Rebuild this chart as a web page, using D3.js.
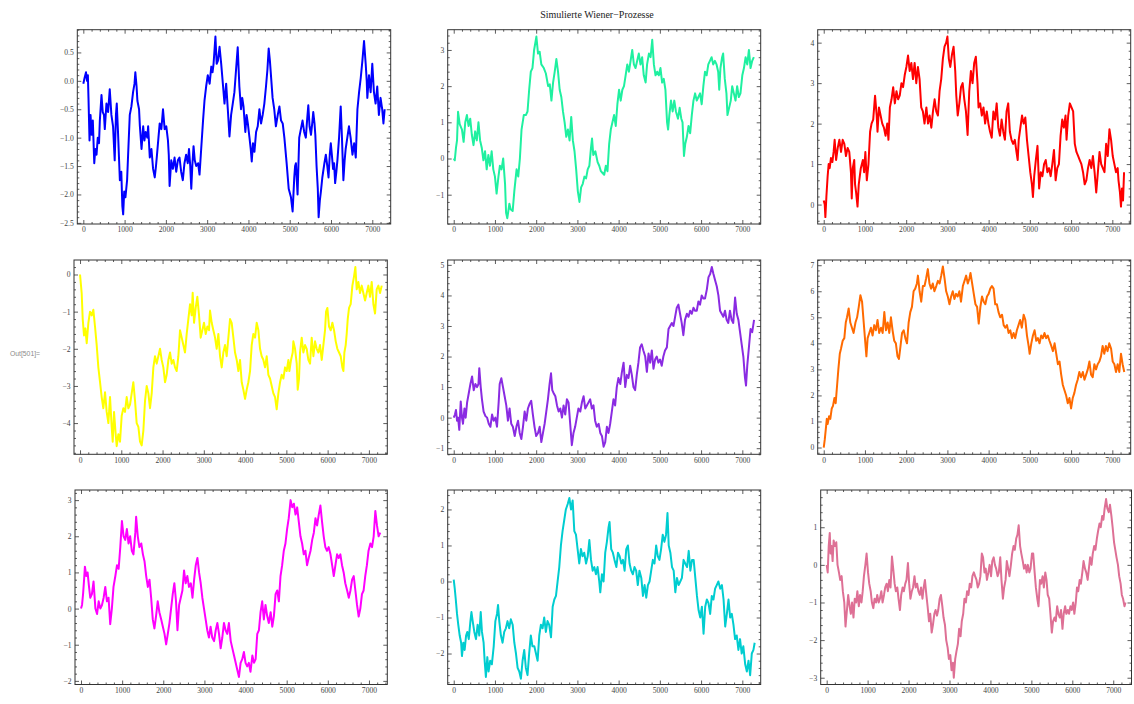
<!DOCTYPE html>
<html>
<head>
<meta charset="utf-8">
<script src="https://cdn.jsdelivr.net/npm/d3@7"></script>
<style>
  body { margin: 0; background: #fff; }
  svg { display: block; }
</style>
</head>
<body>
<svg id="chart" width="1134" height="704"></svg>
<script>
// ---- data ----
const title = "Simulierte Wiener\u2212Prozesse";
const outLabel = "Out[501]=";
const nSteps = 7300;
const xMajorTicks = [0, 1000, 2000, 3000, 4000, 5000, 6000, 7000];

const lineColors = ["#0000ff", "#1ff0a0", "#ff0000", "#ffff00", "#8a2be2", "#ff6a00", "#ff00ff", "#00cdd0", "#de7095"];

const yDomains = [[-2.52, 0.9], [-1.81, 3.56], [-0.48, 4.32], [-4.84, 0.39], [-1.2, 5.16], [-0.26, 7.2], [-2.1, 3.28], [-2.86, 2.54], [-3.18, 1.99]];
const yMajorStep = [0.5, 1, 1, 1, 1, 1, 1, 1, 1];
const yMinorStep = [0.1, 0.2, 0.2, 0.2, 0.2, 0.2, 0.2, 0.2, 0.2];
const yFormats = [".1f", "d", "d", "d", "d", "d", "d", "d", "d"];

// each series: [step, value]
const w1 = [[0,-0.05],[30,0.05],[65,0.15],[90,0.0],[110,0.1],[125,-0.3],[150,-1.05],[175,-0.6],[200,-0.95],[230,-0.7],[265,-1.45],[290,-1.2],[320,-1.3],[350,-1.0],[380,-1.1],[400,-0.7],[440,-0.25],[470,-0.55],[500,-0.6],[520,-0.85],[560,-0.4],[600,-0.55],[640,-0.15],[680,-0.6],[720,-0.8],[760,-1.4],[790,-0.6],[810,-0.4],[840,-0.9],[885,-1.75],[920,-1.6],[945,-2.2],[965,-2.35],[990,-1.95],[1020,-2.05],[1060,-1.75],[1085,-1.3],[1125,-0.6],[1165,-0.45],[1205,-0.2],[1240,-0.05],[1260,0.15],[1290,-0.1],[1310,-0.35],[1350,-0.5],[1370,-0.8],[1410,-1.2],[1450,-0.8],[1480,-1.05],[1510,-0.9],[1550,-1.0],[1570,-0.8],[1610,-1.35],[1650,-1.2],[1690,-1.55],[1730,-1.7],[1760,-1.5],[1785,-1.3],[1820,-1.0],[1850,-0.75],[1890,-0.85],[1930,-0.5],[1970,-0.85],[2010,-0.8],[2050,-1.05],[2070,-1.3],[2090,-1.85],[2130,-1.4],[2170,-1.55],[2210,-1.35],[2250,-1.6],[2290,-1.4],[2330,-1.35],[2370,-1.6],[2410,-1.75],[2450,-1.45],[2490,-1.3],[2530,-1.45],[2560,-1.2],[2590,-1.5],[2615,-1.9],[2640,-1.5],[2670,-1.15],[2700,-1.4],[2735,-1.5],[2780,-1.45],[2815,-1.65],[2855,-1.2],[2900,-0.7],[2935,-0.35],[2975,-0.1],[3015,0.1],[3060,-0.05],[3100,0.25],[3130,0.15],[3155,0.3],[3200,0.78],[3230,0.3],[3260,0.35],[3300,0.6],[3340,0.3],[3380,-0.05],[3420,-0.4],[3460,-0.05],[3500,-0.5],[3540,-0.98],[3580,-0.6],[3620,-0.4],[3660,-0.2],[3700,0.2],[3740,0.59],[3780,-0.1],[3820,-0.5],[3850,-0.3],[3880,-0.45],[3925,-0.9],[3955,-0.6],[3985,-0.75],[4025,-1.0],[4055,-1.2],[4080,-1.42],[4110,-1.1],[4145,-1.25],[4185,-0.9],[4225,-0.8],[4265,-0.5],[4305,-0.75],[4345,-0.6],[4385,-0.4],[4425,-0.1],[4460,0.2],[4490,0.57],[4520,0.35],[4545,0.1],[4585,-0.3],[4625,-0.5],[4665,-0.8],[4710,-0.6],[4750,-0.45],[4790,-0.7],[4830,-0.75],[4870,-1.0],[4925,-1.45],[4975,-1.9],[5030,-2.05],[5070,-2.3],[5110,-1.7],[5130,-1.5],[5150,-1.45],[5190,-2.0],[5230,-1.0],[5270,-0.85],[5310,-0.7],[5350,-0.9],[5390,-1.0],[5420,-0.7],[5450,-0.43],[5480,-0.8],[5515,-0.95],[5545,-0.75],[5570,-0.55],[5600,-0.75],[5620,-0.95],[5650,-1.5],[5680,-1.9],[5700,-2.4],[5730,-2.1],[5755,-1.95],[5790,-1.7],[5810,-1.6],[5840,-1.45],[5875,-1.3],[5910,-1.5],[5940,-1.7],[5970,-1.3],[5995,-1.1],[6020,-1.3],[6050,-1.55],[6075,-1.45],[6100,-1.8],[6130,-1.6],[6155,-1.4],[6195,-1.0],[6235,-0.45],[6265,-1.0],[6300,-1.75],[6330,-1.4],[6355,-1.2],[6395,-1.0],[6435,-0.8],[6475,-1.0],[6520,-1.3],[6560,-1.1],[6600,-1.35],[6640,-0.5],[6680,-0.2],[6720,0.05],[6760,0.35],[6800,0.7],[6840,0.3],[6865,0.0],[6880,-0.3],[6920,0.1],[6960,-0.2],[7000,0.3],[7040,-0.2],[7080,-0.4],[7120,-0.1],[7160,-0.6],[7200,-0.3],[7240,-0.5],[7270,-0.75],[7300,-0.5]];

const w2 = [[0,0],[25,-0.05],[55,0.3],[80,0.5],[105,1.29],[145,0.95],[200,0.8],[240,0.46],[280,1.0],[320,1.2],[360,0.9],[400,1.1],[440,0.65],[480,0.37],[520,0.75],[560,0.5],[600,1.0],[640,0.5],[680,0.3],[720,-0.05],[760,0.2],[800,-0.3],[840,0.1],[880,-0.2],[920,0.2],[960,-0.3],[1000,-0.5],[1040,-0.97],[1085,-0.5],[1120,-0.2],[1160,-0.3],[1200,0.0],[1245,-0.7],[1270,-1.5],[1300,-1.65],[1350,-1.25],[1380,-1.4],[1430,-1.45],[1470,-0.9],[1525,-0.3],[1565,-0.5],[1605,0.0],[1645,0.8],[1700,1.2],[1750,1.2],[1790,1.3],[1830,1.9],[1870,2.4],[1910,2.5],[1950,3.0],[2005,3.37],[2045,2.9],[2085,2.95],[2125,2.6],[2185,2.5],[2235,2.35],[2290,2.0],[2330,2.05],[2370,1.6],[2410,2.1],[2450,2.4],[2490,2.75],[2530,2.4],[2570,1.9],[2610,1.7],[2650,1.3],[2690,1.0],[2730,0.6],[2770,0.8],[2810,0.5],[2850,1.15],[2890,0.5],[2930,0.2],[2970,-0.3],[3010,-0.9],[3050,-1.2],[3090,-0.8],[3130,-0.7],[3170,-0.5],[3210,-0.55],[3250,-0.3],[3290,-0.2],[3330,0.3],[3355,0.55],[3385,0.1],[3435,0.2],[3490,-0.1],[3530,-0.2],[3570,-0.35],[3610,-0.4],[3650,-0.45],[3690,-0.2],[3730,-0.35],[3770,0.4],[3810,0.8],[3850,1.0],[3890,1.2],[3930,0.9],[3970,1.5],[4010,1.9],[4050,1.6],[4090,1.9],[4130,2.0],[4170,2.3],[4210,2.6],[4250,2.4],[4290,2.7],[4330,3.0],[4370,2.6],[4410,2.5],[4450,2.7],[4490,2.9],[4530,2.6],[4570,2.8],[4610,2.3],[4655,2.1],[4690,2.6],[4735,2.9],[4775,2.8],[4815,3.28],[4855,2.6],[4895,2.3],[4935,2.4],[4975,2.3],[5015,2.5],[5055,2.1],[5095,2.2],[5135,1.9],[5175,1.0],[5200,0.8],[5230,1.2],[5270,1.6],[5310,1.3],[5350,1.6],[5390,1.3],[5440,1.1],[5480,1.4],[5520,1.1],[5550,1.0],[5585,0.07],[5615,0.4],[5655,0.6],[5695,0.9],[5735,0.7],[5775,1.2],[5815,1.6],[5855,1.8],[5895,1.6],[5935,1.7],[5975,1.8],[6015,1.5],[6055,2.0],[6095,2.4],[6135,2.3],[6175,2.6],[6215,2.7],[6255,2.8],[6295,2.6],[6335,2.7],[6375,2.6],[6415,2.4],[6440,1.9],[6470,2.5],[6510,2.8],[6535,2.9],[6575,2.2],[6615,1.8],[6640,1.2],[6680,1.4],[6720,1.6],[6755,2.0],[6795,1.8],[6835,1.6],[6875,2.0],[6915,1.7],[6955,1.8],[7000,2.3],[7040,2.5],[7080,2.8],[7120,2.6],[7160,3.0],[7200,2.5],[7240,2.7],[7280,2.8]];

const w3 = [[0,0.1],[25,0.0],[40,-0.31],[65,0.2],[95,0.7],[120,1.0],[145,0.9],[175,1.15],[210,1.05],[240,1.3],[265,1.6],[300,1.1],[340,1.4],[380,1.6],[420,1.3],[460,1.6],[500,1.5],[540,1.2],[580,1.4],[620,1.3],[660,0.8],[680,0.15],[705,0.9],[740,1.1],[760,0.5],[785,0.3],[820,-0.05],[850,0.5],[900,0.9],[950,1.1],[980,0.8],[1010,1.3],[1045,0.6],[1085,1.0],[1125,1.8],[1160,2.0],[1200,2.1],[1245,2.69],[1285,2.2],[1305,1.8],[1340,2.4],[1380,2.2],[1420,2.0],[1460,1.9],[1500,1.7],[1540,2.0],[1570,1.6],[1605,2.4],[1645,2.6],[1685,2.9],[1725,2.5],[1765,2.8],[1805,2.6],[1845,2.7],[1885,3.0],[1925,2.9],[1965,3.2],[2005,3.4],[2045,3.68],[2085,3.3],[2125,3.5],[2165,3.1],[2205,3.5],[2245,3.0],[2285,3.4],[2325,3.1],[2365,2.4],[2405,2.3],[2445,2.0],[2490,2.4],[2530,2.0],[2570,2.2],[2610,1.9],[2650,2.3],[2690,2.6],[2730,2.3],[2770,2.2],[2810,2.8],[2850,3.1],[2890,3.6],[2930,3.9],[2970,4.0],[3000,4.15],[3035,3.6],[3070,3.4],[3110,3.7],[3150,3.9],[3190,3.3],[3215,2.7],[3250,2.2],[3290,2.5],[3330,2.9],[3370,3.0],[3410,2.6],[3450,2.3],[3490,1.72],[3530,2.8],[3570,3.3],[3610,3.0],[3650,3.5],[3690,3.65],[3730,3.0],[3755,2.4],[3795,2.5],[3835,2.2],[3875,2.4],[3915,2.0],[3955,2.3],[3995,2.0],[4035,1.8],[4075,1.65],[4115,2.3],[4155,2.1],[4195,2.5],[4235,1.9],[4275,1.7],[4315,2.1],[4355,1.8],[4395,1.6],[4435,2.3],[4475,2.5],[4515,1.8],[4555,1.6],[4595,1.5],[4635,1.6],[4675,1.3],[4705,1.1],[4730,1.6],[4770,1.9],[4810,2.2],[4850,2.0],[4890,2.15],[4930,1.6],[4970,1.2],[5010,0.8],[5050,0.5],[5075,0.19],[5105,0.7],[5145,1.1],[5185,1.45],[5225,0.4],[5265,0.8],[5305,0.7],[5345,1.0],[5385,1.1],[5425,0.8],[5465,0.9],[5505,0.7],[5545,1.0],[5585,1.35],[5625,0.6],[5665,0.9],[5705,1.0],[5745,1.7],[5785,2.1],[5825,1.9],[5865,2.2],[5890,1.6],[5930,2.2],[5970,2.5],[6010,2.4],[6050,2.3],[6090,1.5],[6130,1.3],[6170,1.2],[6210,1.1],[6250,1.0],[6290,0.8],[6330,0.5],[6370,0.6],[6410,0.9],[6450,1.1],[6490,0.9],[6530,1.2],[6570,0.8],[6610,0.3],[6650,0.8],[6690,1.3],[6730,1.0],[6770,0.9],[6810,0.8],[6850,1.5],[6890,1.2],[6930,1.86],[6970,1.6],[7010,1.2],[7050,1.0],[7090,0.8],[7130,0.9],[7150,0.6],[7185,0.3],[7210,-0.05],[7235,0.4],[7260,0.1],[7285,0.8]];

const w4 = [[0,0.0],[40,-0.5],[65,-1.2],[97,-1.64],[129,-1.45],[162,-1.85],[202,-1.3],[242,-1.0],[283,-1.1],[323,-0.95],[363,-1.4],[404,-1.9],[444,-2.5],[485,-2.9],[525,-3.3],[565,-3.6],[606,-3.17],[646,-3.7],[687,-4.0],[727,-3.3],[767,-4.1],[792,-4.5],[824,-3.7],[864,-4.3],[889,-4.62],[929,-4.3],[969,-4.5],[1010,-3.8],[1050,-3.6],[1090,-3.7],[1131,-3.3],[1171,-3.6],[1212,-3.5],[1252,-3.2],[1292,-2.9],[1333,-3.4],[1373,-4.0],[1414,-4.1],[1454,-4.5],[1494,-4.6],[1535,-4.2],[1575,-3.4],[1616,-3.0],[1656,-3.2],[1696,-3.6],[1737,-3.2],[1777,-2.5],[1817,-2.2],[1858,-2.4],[1898,-2.2],[1939,-2.0],[1979,-2.3],[2019,-2.5],[2060,-2.9],[2100,-2.7],[2141,-2.3],[2181,-2.1],[2221,-2.4],[2262,-2.3],[2302,-2.5],[2342,-2.6],[2383,-2.2],[2423,-1.5],[2464,-1.7],[2504,-1.9],[2544,-2.1],[2585,-1.6],[2625,-1.2],[2666,-0.8],[2706,-1.1],[2730,-0.49],[2763,-1.3],[2803,-0.9],[2843,-0.6],[2884,-1.1],[2924,-1.7],[2964,-1.5],[3005,-1.3],[3045,-1.6],[3086,-1.4],[3126,-1.5],[3150,-0.97],[3191,-1.3],[3231,-1.5],[3272,-1.7],[3312,-2.0],[3352,-1.6],[3393,-2.2],[3433,-2.5],[3473,-2.1],[3514,-1.9],[3554,-2.2],[3595,-1.7],[3635,-1.2],[3675,-1.3],[3716,-1.7],[3756,-2.1],[3797,-2.3],[3837,-2.6],[3877,-2.3],[3918,-2.9],[3958,-3.1],[3999,-3.35],[4039,-3.1],[4079,-2.9],[4120,-2.6],[4160,-1.9],[4200,-1.6],[4241,-1.7],[4281,-1.3],[4322,-1.5],[4362,-2.0],[4402,-2.2],[4443,-2.3],[4483,-2.5],[4524,-2.2],[4564,-2.7],[4604,-2.8],[4645,-3.0],[4685,-3.2],[4726,-3.3],[4766,-3.63],[4806,-3.2],[4847,-2.9],[4887,-2.7],[4928,-2.8],[4968,-2.5],[5008,-2.6],[5049,-2.3],[5073,-2.6],[5113,-2.3],[5154,-2.1],[5170,-1.8],[5210,-2.0],[5251,-2.4],[5275,-3.1],[5307,-2.8],[5331,-2.1],[5372,-1.7],[5412,-2.1],[5453,-1.9],[5493,-2.0],[5533,-2.3],[5574,-2.4],[5614,-1.7],[5655,-2.2],[5695,-1.8],[5735,-2.0],[5776,-2.1],[5816,-1.9],[5857,-2.3],[5897,-1.9],[5937,-1.5],[5962,-1.0],[5994,-0.9],[6034,-1.4],[6075,-1.5],[6115,-1.3],[6155,-1.5],[6196,-1.8],[6236,-2.0],[6277,-2.1],[6317,-2.2],[6357,-2.5],[6382,-2.6],[6406,-2.1],[6438,-1.9],[6462,-1.6],[6487,-1.2],[6519,-0.9],[6559,-0.8],[6600,-0.3],[6640,-0.05],[6672,0.2],[6705,-0.4],[6745,-0.2],[6785,-0.5],[6826,-0.3],[6866,-0.5],[6907,-0.7],[6947,-0.5],[6987,-0.3],[7028,-0.6],[7068,-0.2],[7109,-0.8],[7149,-1.05],[7189,-0.4],[7230,-0.3],[7270,-0.5],[7311,-0.3]];

const w5 = [[0,0.0],[30,0.1],[55,0.25],[80,-0.1],[105,0.0],[135,-0.4],[170,0.53],[200,0.0],[225,-0.2],[260,0.3],[290,0.0],[325,0.5],[365,0.8],[405,1.1],[445,1.35],[485,0.9],[525,1.1],[565,1.0],[600,1.1],[620,1.62],[655,1.0],[685,0.6],[725,0.2],[770,0.05],[810,0.0],[850,-0.2],[890,-0.3],[930,0.1],[970,-0.1],[1010,0.0],[1050,-0.3],[1090,0.5],[1115,1.1],[1155,1.29],[1195,1.0],[1235,0.7],[1275,0.4],[1315,-0.1],[1355,0.3],[1395,-0.2],[1435,-0.3],[1480,-0.6],[1520,-0.3],[1560,-0.1],[1600,-0.5],[1640,-0.7],[1680,-0.3],[1720,0.2],[1760,-0.1],[1800,0.3],[1840,0.45],[1880,0.55],[1920,0.1],[1960,-0.3],[2000,-0.6],[2045,-0.5],[2085,-0.3],[2125,-0.8],[2165,-0.5],[2205,-0.2],[2245,0.2],[2285,0.6],[2325,1.1],[2360,1.45],[2390,0.9],[2425,0.8],[2465,0.7],[2505,0.4],[2545,0.2],[2585,0.3],[2625,0.0],[2665,0.4],[2705,0.1],[2745,0.6],[2785,0.5],[2825,-0.2],[2865,-0.9],[2905,-0.5],[2945,-0.3],[2985,0.0],[3025,0.3],[3070,0.2],[3110,0.5],[3150,0.7],[3190,0.3],[3230,0.4],[3270,0.5],[3310,0.6],[3350,0.3],[3390,0.4],[3430,-0.1],[3470,-0.3],[3515,-0.2],[3555,-0.5],[3595,-0.6],[3635,-0.95],[3675,-0.8],[3715,-0.3],[3755,-0.5],[3795,-0.2],[3835,0.2],[3875,0.6],[3915,0.4],[3955,1.0],[3995,1.3],[4040,1.1],[4080,1.5],[4120,1.8],[4160,1.0],[4200,1.4],[4240,1.3],[4280,1.7],[4320,1.4],[4360,1.0],[4400,0.9],[4440,1.4],[4480,1.8],[4520,2.3],[4560,2.4],[4600,2.2],[4645,2.0],[4685,1.5],[4725,2.1],[4765,1.8],[4805,2.2],[4845,1.6],[4885,1.9],[4925,2.0],[4965,1.8],[5005,1.9],[5045,1.7],[5085,2.0],[5125,2.2],[5170,2.3],[5210,2.9],[5250,3.0],[5290,3.1],[5330,3.0],[5370,3.3],[5410,3.6],[5450,3.7],[5490,3.4],[5530,3.1],[5570,2.7],[5610,3.2],[5655,3.4],[5695,3.3],[5735,3.5],[5775,3.4],[5815,3.6],[5855,3.5],[5895,3.5],[5935,3.8],[5975,3.7],[6015,4.0],[6055,3.9],[6095,3.9],[6140,4.2],[6180,4.6],[6220,4.7],[6260,4.93],[6300,4.7],[6340,4.5],[6380,4.3],[6420,4.0],[6460,3.5],[6500,3.4],[6540,3.3],[6580,3.5],[6620,3.2],[6660,3.1],[6700,3.5],[6740,3.2],[6780,3.1],[6825,3.93],[6865,3.4],[6905,3.2],[6945,2.8],[6985,2.4],[7025,2.0],[7065,1.3],[7090,1.05],[7120,1.7],[7160,2.3],[7200,2.9],[7240,2.8],[7285,3.2]];

const w6 = [[0,0.0],[25,0.3],[50,0.7],[75,1.1],[95,0.9],[130,1.2],[160,1.1],[195,1.5],[225,1.6],[260,1.9],[290,1.7],[325,2.4],[355,3.0],[390,3.6],[420,3.8],[460,4.1],[500,4.2],[535,4.8],[565,5.0],[605,5.34],[645,4.8],[685,4.6],[725,4.4],[770,4.8],[810,5.0],[850,5.4],[890,5.85],[930,5.6],[970,4.8],[1010,4.0],[1035,3.5],[1065,4.2],[1105,4.4],[1145,4.6],[1185,4.3],[1225,4.7],[1265,4.5],[1305,4.9],[1345,4.4],[1390,4.6],[1430,4.4],[1470,5.2],[1510,4.5],[1550,4.8],[1590,4.4],[1630,5.0],[1670,4.5],[1710,4.1],[1750,4.0],[1790,3.5],[1825,3.4],[1855,3.8],[1900,4.4],[1940,4.5],[1980,4.2],[2020,4.0],[2060,4.8],[2100,5.2],[2140,5.4],[2180,6.0],[2220,6.1],[2260,6.3],[2285,6.6],[2325,6.0],[2365,5.6],[2405,6.2],[2445,6.2],[2485,6.5],[2525,6.85],[2565,6.3],[2605,6.1],[2645,6.3],[2685,6.0],[2730,6.2],[2770,6.4],[2810,6.3],[2850,6.6],[2890,6.95],[2930,6.5],[2970,6.0],[3010,5.8],[3050,5.5],[3090,5.8],[3130,6.0],[3170,5.7],[3210,5.9],[3250,5.8],[3290,6.0],[3330,5.6],[3375,6.2],[3415,6.4],[3455,6.6],[3495,6.3],[3535,6.5],[3560,6.7],[3600,6.3],[3640,5.9],[3680,5.5],[3720,5.4],[3760,4.76],[3800,5.4],[3840,5.8],[3880,5.6],[3920,5.5],[3960,5.8],[4000,5.9],[4040,6.1],[4080,6.2],[4120,6.1],[4160,5.5],[4200,5.5],[4240,5.2],[4280,5.0],[4325,5.1],[4365,4.7],[4405,4.6],[4445,4.7],[4485,4.4],[4525,4.5],[4565,4.2],[4605,4.4],[4645,4.2],[4685,4.5],[4725,4.7],[4765,4.9],[4805,4.6],[4850,5.1],[4890,4.9],[4930,4.3],[4970,3.9],[4995,3.6],[5035,4.0],[5075,4.3],[5115,4.5],[5155,4.1],[5195,4.2],[5235,4.0],[5275,4.3],[5315,4.2],[5355,4.4],[5395,4.2],[5435,4.3],[5475,4.1],[5520,3.9],[5560,3.7],[5600,4.0],[5640,3.6],[5680,3.2],[5720,3.3],[5760,2.8],[5800,2.4],[5840,2.2],[5880,2.0],[5920,1.7],[5960,1.9],[6000,1.5],[6040,1.9],[6080,2.1],[6120,2.4],[6160,2.6],[6200,2.9],[6240,2.7],[6285,2.9],[6325,2.6],[6365,2.8],[6405,3.0],[6445,3.3],[6485,2.8],[6525,2.7],[6565,3.2],[6605,3.0],[6645,3.2],[6685,3.3],[6725,3.5],[6765,3.9],[6805,3.6],[6845,3.9],[6885,3.7],[6925,4.0],[6970,3.8],[7010,3.3],[7050,3.2],[7090,2.9],[7130,3.2],[7170,2.9],[7210,3.6],[7250,3.2],[7290,2.9]];

const w7 = [[0,0.0],[25,0.1],[50,0.4],[75,0.8],[95,1.16],[130,0.9],[160,1.0],[195,0.6],[225,0.3],[265,0.4],[305,0.75],[350,0.0],[390,-0.15],[430,0.2],[470,0.0],[510,0.1],[550,0.3],[590,0.6],[630,0.2],[670,0.3],[710,-0.43],[750,0.0],[790,0.6],[835,0.9],[875,1.2],[915,1.1],[955,1.7],[995,2.42],[1035,2.0],[1075,1.9],[1115,2.2],[1155,1.8],[1195,2.0],[1235,1.6],[1275,1.5],[1320,2.1],[1340,2.54],[1380,2.0],[1420,1.7],[1465,1.8],[1505,1.5],[1545,1.3],[1585,0.9],[1625,0.6],[1665,0.8],[1705,0.3],[1745,-0.3],[1785,-0.55],[1825,-0.2],[1865,0.2],[1905,-0.1],[1950,-0.3],[1990,-0.5],[2030,-0.7],[2070,-0.99],[2110,-0.7],[2150,-0.4],[2190,0.0],[2230,0.4],[2270,0.7],[2310,0.2],[2345,-0.6],[2385,0.1],[2425,0.3],[2465,0.5],[2505,1.05],[2545,0.7],[2585,0.9],[2625,0.6],[2670,0.7],[2710,0.3],[2750,0.8],[2790,1.2],[2830,1.4],[2870,1.0],[2910,0.7],[2950,0.3],[2990,0.0],[3030,-0.3],[3070,-0.6],[3110,-0.8],[3150,-0.5],[3190,-0.8],[3235,-0.9],[3275,-0.6],[3315,-0.4],[3355,-0.7],[3395,-1.1],[3435,-0.8],[3475,-0.4],[3515,-0.6],[3555,-0.7],[3595,-0.4],[3640,-0.9],[3680,-1.1],[3720,-1.3],[3760,-1.5],[3800,-1.7],[3840,-1.89],[3880,-1.5],[3920,-1.4],[3960,-1.2],[4000,-1.5],[4040,-1.6],[4080,-1.5],[4120,-1.75],[4165,-1.3],[4205,-1.5],[4245,-1.4],[4285,-0.7],[4325,-0.6],[4365,-0.1],[4405,0.2],[4445,-0.3],[4485,0.1],[4525,-0.2],[4565,-0.4],[4610,-0.1],[4650,-0.5],[4690,-0.2],[4730,0.4],[4770,0.5],[4810,0.2],[4850,0.9],[4890,1.2],[4930,1.6],[4970,1.8],[5010,2.2],[5050,2.5],[5095,3.0],[5135,2.8],[5175,2.9],[5215,2.6],[5255,2.8],[5295,2.4],[5335,2.0],[5375,1.8],[5415,1.5],[5455,1.6],[5495,1.2],[5535,1.4],[5580,1.6],[5620,1.9],[5660,2.1],[5700,2.5],[5740,2.3],[5780,2.6],[5820,2.85],[5860,2.4],[5900,2.0],[5940,1.7],[5980,1.6],[6020,1.7],[6065,1.5],[6105,1.2],[6145,0.9],[6185,1.2],[6225,1.5],[6265,1.4],[6305,1.5],[6345,1.2],[6385,1.0],[6425,0.7],[6470,0.5],[6510,0.3],[6550,0.5],[6590,0.8],[6630,0.9],[6670,0.5],[6710,0.1],[6750,-0.22],[6790,0.0],[6830,0.4],[6870,0.5],[6910,0.9],[6950,1.2],[6990,1.6],[7035,1.8],[7075,1.7],[7115,2.0],[7155,2.7],[7195,2.3],[7235,2.0],[7275,2.1]];

const w8 = [[0,0.05],[25,-0.2],[50,-0.5],[80,-0.9],[110,-1.2],[145,-1.5],[180,-1.7],[200,-2.07],[235,-1.7],[265,-1.9],[300,-1.5],[330,-1.4],[365,-1.6],[405,-1.1],[430,-0.85],[460,-1.1],[500,-1.4],[540,-1.6],[580,-1.2],[620,-1.5],[655,-0.85],[685,-1.4],[725,-1.7],[750,-2.2],[780,-2.65],[815,-2.1],[845,-2.5],[885,-2.2],[925,-2.3],[970,-1.8],[1010,-1.1],[1050,-0.9],[1075,-0.65],[1105,-1.1],[1145,-1.5],[1185,-1.7],[1225,-1.4],[1265,-1.3],[1305,-1.1],[1345,-1.3],[1385,-1.05],[1430,-1.2],[1470,-1.7],[1510,-2.0],[1550,-2.4],[1590,-2.5],[1630,-2.7],[1670,-2.2],[1710,-1.9],[1750,-2.4],[1790,-2.6],[1830,-2.0],[1870,-1.5],[1910,-1.8],[1955,-1.8],[1995,-2.0],[2035,-2.2],[2075,-1.5],[2115,-1.2],[2155,-1.3],[2195,-1.0],[2235,-1.4],[2275,-1.1],[2315,-1.2],[2360,-1.55],[2400,-0.7],[2440,-0.5],[2480,-0.4],[2520,0.0],[2560,0.4],[2600,1.0],[2640,1.4],[2680,1.7],[2720,2.0],[2765,2.15],[2805,2.32],[2845,2.0],[2885,2.25],[2925,1.4],[2965,1.3],[3005,0.9],[3045,0.5],[3085,0.9],[3125,0.7],[3165,0.8],[3210,0.5],[3250,0.7],[3290,1.15],[3330,0.6],[3370,0.3],[3410,0.4],[3450,0.2],[3490,0.4],[3530,0.0],[3555,-0.3],[3595,0.2],[3635,0.0],[3675,0.8],[3715,1.1],[3755,1.5],[3780,1.65],[3820,0.9],[3860,0.8],[3900,0.6],[3945,0.4],[3985,0.8],[4025,0.7],[4065,0.5],[4105,0.6],[4145,0.3],[4185,0.9],[4225,1.0],[4265,0.5],[4305,0.3],[4345,0.2],[4385,0.4],[4425,0.3],[4465,-0.1],[4505,0.3],[4550,0.1],[4590,-0.4],[4630,-0.1],[4670,-0.45],[4710,-0.1],[4750,0.0],[4790,0.3],[4830,0.6],[4870,0.5],[4910,1.0],[4950,0.7],[4990,0.6],[5030,0.9],[5070,1.3],[5110,1.1],[5150,1.3],[5185,1.9],[5215,1.0],[5255,0.8],[5295,0.4],[5335,0.3],[5375,-0.3],[5415,0.1],[5455,-0.1],[5495,0.0],[5535,0.1],[5575,0.6],[5615,0.5],[5660,0.4],[5700,0.85],[5740,0.3],[5780,0.6],[5820,0.6],[5860,0.1],[5900,-0.4],[5940,-0.8],[5980,-1.0],[6020,-0.7],[6060,-1.45],[6100,-0.7],[6140,-0.5],[6180,-0.6],[6220,-0.9],[6260,-0.4],[6300,-0.5],[6340,-0.2],[6380,-0.1],[6420,0.0],[6465,-0.2],[6505,-0.1],[6545,-0.5],[6585,-1.25],[6625,-0.9],[6665,-0.5],[6705,-1.0],[6745,-0.9],[6785,-1.2],[6825,-1.6],[6865,-1.5],[6905,-1.9],[6945,-1.6],[6985,-2.0],[7025,-1.8],[7070,-2.3],[7110,-2.5],[7150,-2.2],[7190,-2.6],[7230,-2.0],[7270,-1.9],[7300,-1.7]];

const w9 = [[0,0.0],[25,-0.2],[50,0.5],[75,0.85],[95,0.3],[120,0.5],[145,0.1],[170,0.65],[200,0.5],[235,0.6],[265,0.0],[300,-0.2],[330,-0.4],[365,-0.3],[395,-0.7],[430,-1.0],[460,-1.64],[495,-1.2],[525,-0.8],[560,-1.1],[590,-1.3],[620,-1.0],[655,-1.4],[685,-0.9],[720,-1.0],[750,-0.7],[785,-1.1],[815,-0.8],[850,-1.0],[880,-0.7],[910,-0.3],[945,0.0],[975,0.3],[1010,-0.2],[1040,-0.5],[1075,-0.7],[1105,-1.0],[1140,-1.15],[1170,-0.9],[1205,-1.0],[1235,-0.8],[1270,-1.0],[1300,-0.9],[1335,-0.7],[1365,-1.0],[1400,-0.8],[1430,-0.6],[1465,-0.5],[1495,-0.7],[1530,-0.4],[1560,-0.6],[1595,0.22],[1625,-0.1],[1660,-0.5],[1690,-0.7],[1725,-0.6],[1755,-0.9],[1790,-1.2],[1820,-0.8],[1855,-0.6],[1885,-0.7],[1920,-0.5],[1950,-0.4],[1985,0.05],[2015,-0.5],[2045,-0.9],[2080,-0.7],[2110,-0.6],[2145,-0.3],[2175,-0.6],[2210,-0.5],[2240,-0.7],[2275,-0.8],[2305,-0.6],[2340,-0.9],[2370,-0.6],[2400,-0.4],[2435,-0.8],[2465,-1.1],[2500,-1.5],[2530,-1.3],[2565,-1.8],[2595,-1.6],[2630,-1.3],[2660,-1.2],[2695,-1.35],[2725,-1.2],[2760,-0.9],[2790,-0.8],[2825,-1.1],[2855,-1.4],[2890,-1.6],[2920,-2.0],[2955,-2.2],[2985,-2.5],[3020,-2.4],[3050,-2.8],[3085,-2.6],[3105,-3.0],[3140,-2.5],[3170,-2.3],[3205,-2.1],[3235,-1.7],[3270,-1.9],[3300,-1.5],[3335,-1.3],[3365,-0.9],[3400,-1.0],[3430,-0.7],[3465,-0.8],[3495,-0.5],[3530,-0.6],[3560,-0.3],[3595,-0.2],[3625,-0.3],[3660,-0.4],[3690,-0.6],[3725,-0.5],[3755,-0.3],[3790,0.3],[3820,0.2],[3855,-0.2],[3885,-0.1],[3915,-0.4],[3950,-0.2],[3980,0.0],[4015,-0.3],[4045,0.1],[4080,0.2],[4110,0.0],[4140,-0.1],[4175,-0.3],[4205,-0.2],[4240,0.2],[4270,-0.4],[4305,-0.9],[4335,-0.6],[4370,-0.4],[4400,0.1],[4435,-0.1],[4465,-0.3],[4500,0.0],[4530,0.3],[4565,0.5],[4595,0.4],[4630,0.7],[4660,0.8],[4690,1.05],[4725,0.5],[4755,0.3],[4790,0.1],[4820,-0.1],[4855,0.0],[4885,-0.2],[4915,0.0],[4950,-0.2],[4980,-0.1],[5015,0.3],[5045,0.3],[5080,-0.2],[5110,-0.6],[5145,-0.9],[5175,-1.1],[5210,-0.4],[5240,-0.5],[5275,-0.3],[5305,-0.6],[5340,-0.2],[5370,-0.4],[5400,-0.8],[5435,-0.9],[5465,-1.3],[5500,-1.8],[5530,-1.5],[5565,-1.4],[5595,-1.5],[5630,-1.1],[5660,-1.3],[5695,-1.4],[5725,-1.2],[5760,-1.7],[5790,-1.3],[5825,-1.1],[5855,-1.3],[5890,-1.2],[5920,-1.3],[5955,-1.1],[5985,-1.2],[6020,-1.0],[6050,-1.3],[6085,-1.0],[6115,-0.6],[6145,-0.7],[6180,-0.4],[6210,-0.5],[6245,-0.2],[6275,0.1],[6310,-0.1],[6340,-0.2],[6375,-0.4],[6405,-0.1],[6435,0.2],[6470,0.0],[6500,0.3],[6535,0.5],[6565,0.4],[6600,0.7],[6630,0.9],[6665,1.1],[6695,1.0],[6730,1.3],[6760,1.2],[6790,1.5],[6825,1.75],[6855,1.5],[6890,1.4],[6920,1.6],[6955,1.3],[6985,1.0],[7020,0.6],[7050,0.4],[7080,0.2],[7115,0.0],[7145,-0.3],[7180,-0.5],[7210,-0.8],[7240,-0.9],[7275,-1.1],[7300,-1.0]];

const series = [w1, w2, w3, w4, w5, w6, w7, w8, w9];

// ---- layout ----
// frame boxes [left, top, right, bottom] of the nine panels
const frames = [
  [77.3, 29.7, 390.7, 224], [447.7, 29.7, 760.7, 224], [817.7, 29.7, 1130.7, 224],
  [74, 260, 387.3, 454.3], [447.7, 260, 760.7, 454.3], [817.7, 260, 1130.7, 454.3],
  [75, 490, 387.3, 684.5], [447.7, 490, 760.7, 684.5], [820.7, 490, 1131.5, 684.5]
];
const frameColor = "#333";
const labelFont = "'Liberation Serif', 'Times New Roman', serif";

const svg = d3.select("#chart");

svg.append("text")
  .attr("x", 597).attr("y", 17.5)
  .attr("text-anchor", "middle")
  .attr("font-family", labelFont)
  .attr("font-size", 10)
  .attr("fill", "#222")
  .text(title);

svg.append("text")
  .attr("x", 10).attr("y", 356)
  .attr("font-family", "'Liberation Sans', Arial, sans-serif")
  .attr("font-size", 6.8)
  .attr("fill", "#8a8a8a")
  .text(outLabel);

function ticksBetween(lo, hi, step) {
  const a = Math.ceil(lo / step - 1e-9), b = Math.floor(hi / step + 1e-9);
  return d3.range(a, b + 1).map(k => +(k * step).toFixed(6));
}

function styleAxis(g) {
  g.select(".domain").remove();
  g.selectAll("line").attr("stroke", frameColor).attr("stroke-width", 0.8);
  g.selectAll("text").attr("fill", "#444");
  g.attr("font-family", labelFont).attr("font-size", 7.6);
}

series.forEach((data, i) => {
  const [x0, y0, x1, y1] = frames[i];
  const x = d3.scaleLinear().domain([-0.02 * nSteps, 1.02 * nSteps]).range([x0, x1]);
  const y = d3.scaleLinear().domain(yDomains[i]).range([y1, y0]);

  const xMinor = ticksBetween(x.domain()[0], x.domain()[1], 200).filter(v => v % 1000 !== 0);
  const yMaj = ticksBetween(yDomains[i][0], yDomains[i][1], yMajorStep[i]);
  const yMin = ticksBetween(yDomains[i][0], yDomains[i][1], yMinorStep[i])
    .filter(v => Math.abs(v / yMajorStep[i] - Math.round(v / yMajorStep[i])) > 1e-6);

  const g = svg.append("g");

  const clipId = "clip" + i;
  g.append("clipPath").attr("id", clipId)
    .append("rect").attr("x", x0).attr("y", y0).attr("width", x1 - x0).attr("height", y1 - y0);

  g.append("path")
    .datum(data)
    .attr("clip-path", `url(#${clipId})`)
    .attr("fill", "none")
    .attr("stroke", lineColors[i])
    .attr("stroke-width", 2)
    .attr("stroke-linejoin", "round")
    .attr("d", d3.line().x(d => x(d[0])).y(d => y(d[1])));

  // bottom: labelled majors + minors
  g.append("g").attr("transform", `translate(0,${y1})`)
    .call(d3.axisBottom(x).tickValues(xMajorTicks).tickSize(-4).tickPadding(3).tickFormat(d3.format("d")))
    .call(styleAxis);
  g.append("g").attr("transform", `translate(0,${y1})`)
    .call(d3.axisBottom(x).tickValues(xMinor).tickSize(-2).tickFormat(""))
    .call(styleAxis);
  // top: ticks only
  g.append("g").attr("transform", `translate(0,${y0})`)
    .call(d3.axisTop(x).tickValues(xMajorTicks).tickSize(-4).tickFormat(""))
    .call(styleAxis);
  g.append("g").attr("transform", `translate(0,${y0})`)
    .call(d3.axisTop(x).tickValues(xMinor).tickSize(-2).tickFormat(""))
    .call(styleAxis);
  // left: labelled majors + minors
  g.append("g").attr("transform", `translate(${x0},0)`)
    .call(d3.axisLeft(y).tickValues(yMaj).tickSize(-4).tickPadding(3.5).tickFormat(d3.format(yFormats[i])))
    .call(styleAxis);
  g.append("g").attr("transform", `translate(${x0},0)`)
    .call(d3.axisLeft(y).tickValues(yMin).tickSize(-2).tickFormat(""))
    .call(styleAxis);
  // right: ticks only
  g.append("g").attr("transform", `translate(${x1},0)`)
    .call(d3.axisRight(y).tickValues(yMaj).tickSize(-4).tickFormat(""))
    .call(styleAxis);
  g.append("g").attr("transform", `translate(${x1},0)`)
    .call(d3.axisRight(y).tickValues(yMin).tickSize(-2).tickFormat(""))
    .call(styleAxis);

  g.append("rect")
    .attr("x", x0).attr("y", y0)
    .attr("width", x1 - x0).attr("height", y1 - y0)
    .attr("fill", "none")
    .attr("stroke", frameColor)
    .attr("stroke-width", 1);
});
</script>
</body>
</html>
